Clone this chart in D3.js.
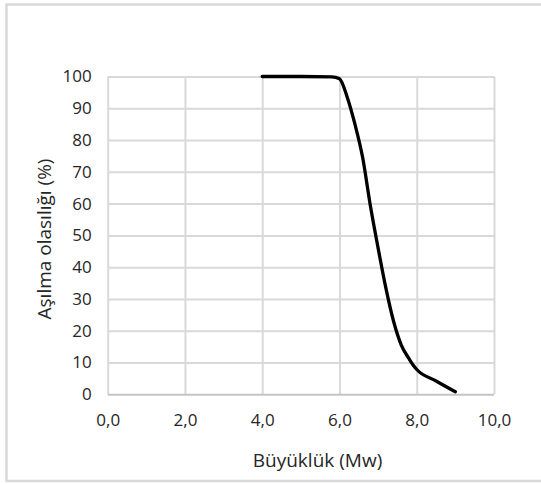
<!DOCTYPE html>
<html>
<head>
<meta charset="utf-8">
<script src="https://cdn.jsdelivr.net/npm/d3@7"></script>
<style>
  html, body { margin: 0; padding: 0; background: #fff; }
  svg { display: block; }
  text { font-family: "Open Sans", "DejaVu Sans", sans-serif; fill: #262626; }
</style>
</head>
<body>
<svg id="chart" width="541" height="484"></svg>
<script>
// ---- data ----
const magnitudes = [4.0, 5.0, 5.8, 6.0, 6.2, 6.4, 6.6, 6.8, 7.0, 7.2, 7.4, 7.6, 7.8, 7.9, 8.0, 8.5, 9.0];
const exceedance = [100, 100, 99.9, 99.3, 93.5, 85, 74.5, 59.3, 46, 33.5, 23, 15.5, 11.2, 9.3, 7.8, 4.2, 0.8];
const xTicks = [0, 2, 4, 6, 8, 10];
const yTicks = [0, 10, 20, 30, 40, 50, 60, 70, 80, 90, 100];
const xTitle = "Büyüklük (Mw)";
const yTitle = "Aşılma olasılığı (%)";

const svg = d3.select("#chart");
const plot = { left: 107.7, right: 494, top: 76.5, bottom: 394.3 };

// outer chart border
svg.append("rect")
  .attr("x", 6.5).attr("y", 4.5)
  .attr("width", 560).attr("height", 476.5)
  .attr("fill", "none").attr("stroke", "#d9d9d9").attr("stroke-width", 2.5);

const x = d3.scaleLinear().domain([0, 10]).range([plot.left, plot.right]);
const y = d3.scaleLinear().domain([0, 100]).range([plot.bottom, plot.top]);

// gridlines
svg.append("g")
  .attr("transform", `translate(0,${plot.bottom})`)
  .call(d3.axisBottom(x).tickValues(xTicks).tickSize(-(plot.bottom - plot.top)).tickFormat(""))
  .call(g => g.select(".domain").remove())
  .call(g => g.selectAll("line").attr("stroke", "#d9d9d9").attr("stroke-width", 2));

svg.append("g")
  .attr("transform", `translate(${plot.left},0)`)
  .call(d3.axisLeft(y).tickValues(yTicks).tickSize(-(plot.right - plot.left)).tickFormat(""))
  .call(g => g.select(".domain").remove())
  .call(g => g.selectAll("line").attr("stroke", d => d === 0 ? "#c4c4c4" : "#d9d9d9").attr("stroke-width", 2));

// tick labels
const fmt = d => d3.format(".1f")(d).replace(".", ",");
svg.append("g")
  .attr("transform", `translate(0,${plot.bottom})`)
  .call(d3.axisBottom(x).tickValues(xTicks).tickSize(0).tickPadding(20).tickFormat(fmt))
  .call(g => g.select(".domain").remove())
  .call(g => g.selectAll("text").attr("font-size", 17).style("font-family", '"Open Sans", sans-serif').attr("fill", "#262626"));

svg.append("g")
  .attr("transform", `translate(${plot.left},0)`)
  .call(d3.axisLeft(y).tickValues(yTicks).tickSize(0).tickPadding(16).tickFormat(d3.format("d")))
  .call(g => g.select(".domain").remove())
  .call(g => g.selectAll("text").attr("font-size", 17).style("font-family", '"Open Sans", sans-serif').attr("fill", "#262626"));

// line
const line = d3.line()
  .x((d, i) => x(magnitudes[i]))
  .y((d, i) => y(exceedance[i]))
  .curve(d3.curveMonotoneX);

svg.append("path")
  .datum(exceedance)
  .attr("d", line)
  .attr("fill", "none")
  .attr("stroke", "#000")
  .attr("stroke-width", 3.3)
  .attr("stroke-linejoin", "round")
  .attr("stroke-linecap", "round");

// axis titles
svg.append("text")
  .attr("x", 317.5).attr("y", 467)
  .attr("text-anchor", "middle")
  .attr("font-size", 19)
  .text(xTitle);

svg.append("text")
  .attr("transform", `translate(51,239) rotate(-90)`)
  .attr("text-anchor", "middle")
  .attr("font-size", 19)
  .text(yTitle);
</script>
</body>
</html>
